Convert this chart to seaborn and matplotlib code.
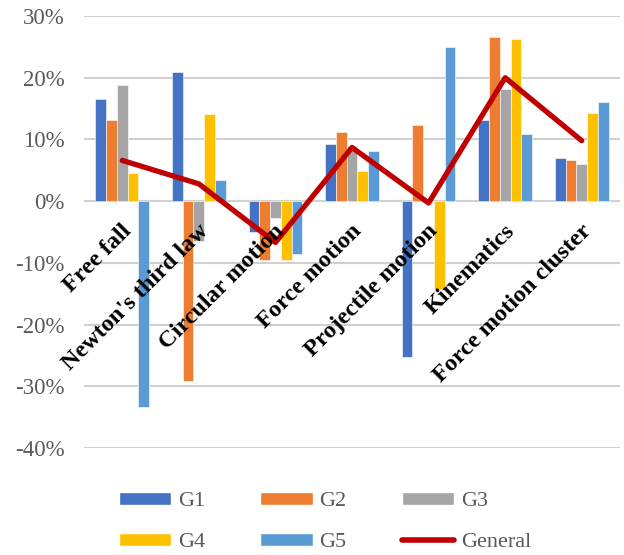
import numpy as np
import pandas as pd
import matplotlib
matplotlib.use("Agg")
import matplotlib.pyplot as plt
import seaborn as sns
from matplotlib.patches import Patch
from matplotlib.lines import Line2D

categories = ["Free fall", "Newton's third law", "Circular motion", "Force motion",
              "Projectile motion", "Kinematics", "Force motion cluster"]
G1 = [0.166, 0.210, -0.050, 0.093, -0.252, 0.132, 0.070]
G2 = [0.132, -0.292, -0.096, 0.112, 0.123, 0.266, 0.067]
G3 = [0.189, -0.065, -0.028, 0.089, 0.000, 0.181, 0.060]
G4 = [0.046, 0.141, -0.096, 0.049, -0.142, 0.263, 0.143]
G5 = [-0.334, 0.034, -0.085, 0.082, 0.249, 0.109, 0.160]
general = [0.066, 0.028, -0.067, 0.087, -0.003, 0.200, 0.098]
series_names = ["G1", "G2", "G3", "G4", "G5"]
colors = ["#4472C4", "#ED7D31", "#A5A5A5", "#FFC000", "#5B9BD5"]
line_color = "#C00000"
yticks = [-0.4, -0.3, -0.2, -0.1, 0.0, 0.1, 0.2, 0.3]
ytick_labels = ["-40%", "-30%", "-20%", "-10%", "0%", "10%", "20%", "30%"]

rows = []
for name, vals in zip(series_names, [G1, G2, G3, G4, G5]):
    for c, v in zip(categories, vals):
        rows.append({"category": c, "series": name, "value": v})
df = pd.DataFrame(rows)

sns.set_theme(style="white")
plt.rcParams["font.family"] = ["Liberation Serif", "DejaVu Serif"]

fig = plt.figure(figsize=(6.24, 5.55), dpi=100)
ax = fig.add_axes([84/624, (555-448)/555, (620-84)/624, 432/555])

sns.barplot(data=df, x="category", y="value", hue="series", order=categories,
            hue_order=series_names, palette=colors, saturation=1, width=0.7, ax=ax,
            edgecolor="white", linewidth=0.4, legend=False, errorbar=None)
sns.lineplot(x=np.arange(len(categories)), y=general, color=line_color,
             linewidth=3.8, ax=ax, legend=False)

ax.set_ylim(-0.4, 0.3)
ax.set_xlim(-0.5, len(categories) - 0.5)
ax.set_yticks(yticks)
ax.set_yticklabels(ytick_labels, color="#595959", fontsize=16.5)
ax.tick_params(axis="y", length=0, pad=14)
ax.set_xticks([])
ax.set_xlabel("")
ax.set_ylabel("")
for s in ax.spines.values():
    s.set_visible(False)
ax.yaxis.grid(True, color="#D0D0D0", linewidth=1.5)
ax.set_axisbelow(True)

for i, c in enumerate(categories):
    ax.text(i + 0.13, -0.05, c, rotation=45, rotation_mode="anchor",
            ha="right", va="baseline", fontsize=17.5, fontweight="bold", color="black")

handles = [Patch(facecolor=colors[0]), Patch(facecolor=colors[3]),
           Patch(facecolor=colors[1]), Patch(facecolor=colors[4]),
           Patch(facecolor=colors[2]),
           Line2D([0], [0], color=line_color, linewidth=4, solid_capstyle="round")]
labels = ["G1", "G4", "G2", "G5", "G3", "General"]
leg = fig.legend(handles, labels, ncol=3, loc="center", bbox_to_anchor=(325/624, 1-522/555),
                 frameon=False, fontsize=16, handlelength=2.35, handleheight=0.55,
                 handletextpad=0.3, columnspacing=2.5, labelspacing=0.95)
for t in leg.get_texts():
    t.set_color("#595959")

fig.savefig("out.png", dpi=100)
